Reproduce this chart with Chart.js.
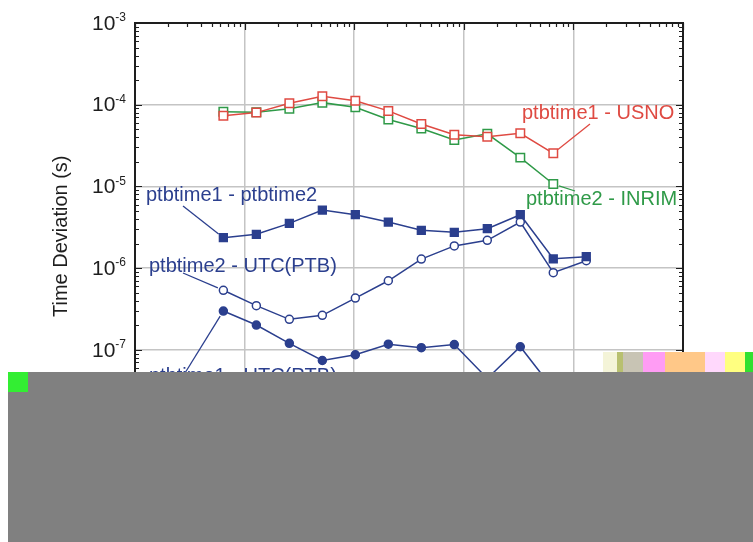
<!DOCTYPE html>
<html>
<head>
<meta charset="utf-8">
<script src="https://cdn.jsdelivr.net/npm/chart.js@4"></script>
<style>
  body { margin: 0; background: #fff; }
  #wrap { position: relative; width: 753px; height: 542px; }
  .blk { position: absolute; }
</style>
</head>
<body>
<div id="wrap">
  <canvas id="chart" width="753" height="542"></canvas>
  <div class="blk" style="left:603px;top:352px;width:14px;height:20px;background:#f4f4d8"></div>
  <div class="blk" style="left:617px;top:352px;width:6px;height:20px;background:#b8c070"></div>
  <div class="blk" style="left:623px;top:352px;width:20px;height:20px;background:#c8c4b4"></div>
  <div class="blk" style="left:643px;top:352px;width:22px;height:20px;background:#ff9cf4"></div>
  <div class="blk" style="left:665px;top:352px;width:40px;height:20px;background:#ffc888"></div>
  <div class="blk" style="left:705px;top:352px;width:20px;height:20px;background:#ffd8fc"></div>
  <div class="blk" style="left:725px;top:352px;width:20px;height:20px;background:#ffff80"></div>
  <div class="blk" style="left:745px;top:352px;width:8px;height:20px;background:#30e030"></div>
  <div class="blk" style="left:8px;top:372px;width:745px;height:170px;background:#808080"></div>
  <div class="blk" style="left:8px;top:372px;width:20px;height:20px;background:#33ee33"></div>
</div>
<script>
// averaging times (s)
const tau = [64, 128, 256, 512, 1024, 2048, 4096, 8192, 16384, 32768, 65536, 131072];

const usno = [7.3e-5, 8.0e-5, 1.04e-4, 1.27e-4, 1.12e-4, 8.4e-5, 5.8e-5, 4.3e-5, 4.06e-5, 4.47e-5, 2.54e-5];
const inrim = [8.2e-5, 8.07e-5, 8.9e-5, 1.06e-4, 9.3e-5, 6.6e-5, 5.1e-5, 3.7e-5, 4.4e-5, 2.25e-5, 1.07e-5];
const t1t2 = [2.36e-6, 2.59e-6, 3.53e-6, 5.14e-6, 4.5e-6, 3.66e-6, 2.9e-6, 2.74e-6, 3.04e-6, 4.5e-6, 1.3e-6, 1.38e-6];
const t2utc = [5.35e-7, 3.47e-7, 2.36e-7, 2.64e-7, 4.3e-7, 7.0e-7, 1.29e-6, 1.87e-6, 2.19e-6, 3.66e-6, 8.8e-7, 1.23e-6];
const t1utc = [2.98e-7, 2.01e-7, 1.2e-7, 7.4e-8, 8.7e-8, 1.17e-7, 1.06e-7, 1.16e-7, 4.45e-8, 1.09e-7, 3.3e-8, 3.6e-8];

const yDecades = [-8, -7, -6, -5, -4, -3];
const xDecades = [1, 2, 3, 4, 5, 6];

const RED = '#df4a42';
const GREEN = '#2f9a48';
const BLUE = '#2b3f8e';
const INK = '#1e1e1e';
const FONT = '"Liberation Sans", Arial, sans-serif';

const pts = (vals) => vals.map((v, i) => ({ x: tau[i], y: v }));

function series(label, vals, color, style, radius, filled) {
  return {
    label,
    data: pts(vals),
    borderColor: color,
    borderWidth: 1.5,
    pointStyle: style,
    pointRadius: radius,
    pointBorderWidth: 1.5,
    pointBorderColor: color,
    pointBackgroundColor: filled ? color : '#ffffff',
    fill: false,
    tension: 0
  };
}

// text callouts: pixel layout, leader goes to a point of a dataset
const callouts = [
  { text: 'ptbtime1 - USNO', color: RED, x: 522, y: 113, from: [590, 124], ds: 0, idx: 10 },
  { text: 'ptbtime2 - INRIM', color: GREEN, x: 526, y: 199, from: [575, 191], ds: 1, idx: 10 },
  { text: 'ptbtime1 - ptbtime2', color: BLUE, x: 146, y: 195, from: [183, 206], ds: 2, idx: 0 },
  { text: 'ptbtime2 - UTC(PTB)', color: BLUE, x: 149, y: 266, from: [183, 273], ds: 3, idx: 0 },
  { text: 'ptbtime1 - UTC(PTB)', color: BLUE, x: 149, y: 376, from: [185, 373], ds: 4, idx: 0 }
];

const isMajor = (v) => Math.abs(Math.log10(v) - Math.round(Math.log10(v))) < 1e-6;

function drawPow(ctx, x, y, exp, align) {
  ctx.font = `21px ${FONT}`;
  const base = ctx.measureText('10').width;
  ctx.font = `12px ${FONT}`;
  const sup = ctx.measureText(String(exp)).width;
  const left = align === 'right' ? x - base - sup : x - (base + sup) / 2;
  ctx.fillStyle = INK;
  ctx.textAlign = 'left';
  ctx.textBaseline = 'middle';
  ctx.font = `21px ${FONT}`;
  ctx.fillText('10', left, y + 1);
  ctx.font = `12px ${FONT}`;
  ctx.textBaseline = 'top';
  ctx.fillText(String(exp), left + base, y - 11);
}

const framePlugin = {
  id: 'frame',
  afterDraw(chart) {
    const { ctx, chartArea: a, scales: { x, y } } = chart;
    ctx.save();
    ctx.strokeStyle = INK;
    ctx.lineWidth = 1.2;
    // inward ticks on all four sides
    yDecades.forEach((d) => {
      for (let m = 1; m <= 9; m++) {
        const v = m * Math.pow(10, d);
        if (v > y.max * 1.0001) break;
        const py = Math.round(y.getPixelForValue(v)) + 0.5;
        const len = m === 1 ? 7 : 4;
        ctx.beginPath();
        ctx.moveTo(a.left, py); ctx.lineTo(a.left + len, py);
        ctx.moveTo(a.right, py); ctx.lineTo(a.right - len, py);
        ctx.stroke();
      }
    });
    xDecades.forEach((d) => {
      for (let m = 1; m <= 9; m++) {
        const v = m * Math.pow(10, d);
        if (v > x.max * 1.0001) break;
        const px = Math.round(x.getPixelForValue(v)) + 0.5;
        const len = m === 1 ? 7 : 4;
        ctx.beginPath();
        ctx.moveTo(px, a.top); ctx.lineTo(px, a.top + len);
        ctx.moveTo(px, a.bottom); ctx.lineTo(px, a.bottom - len);
        ctx.stroke();
      }
    });
    ctx.lineWidth = 2;
    ctx.strokeRect(a.left, a.top, a.right - a.left, a.bottom - a.top);

    // tick labels with superscript exponents
    yDecades.forEach((d) => drawPow(ctx, a.left - 9, y.getPixelForValue(Math.pow(10, d)), d, 'right'));
    xDecades.forEach((d) => drawPow(ctx, x.getPixelForValue(Math.pow(10, d)), a.bottom + 22, d, 'center'));

    // axis title
    ctx.save();
    ctx.translate(61, (a.top + a.bottom) / 2 + 9);
    ctx.rotate(-Math.PI / 2);
    ctx.font = `20px ${FONT}`;
    ctx.fillStyle = INK;
    ctx.textAlign = 'center';
    ctx.textBaseline = 'middle';
    ctx.fillText('Time Deviation (s)', 0, 0);
    ctx.restore();

    // callouts
    callouts.forEach((c) => {
      const el = chart.getDatasetMeta(c.ds).data[c.idx];
      const dx = c.from[0] - el.x, dy = c.from[1] - el.y;
      const len = Math.hypot(dx, dy);
      ctx.strokeStyle = c.color;
      ctx.lineWidth = 1.3;
      ctx.beginPath();
      ctx.moveTo(c.from[0], c.from[1]);
      ctx.lineTo(el.x + dx / len * 6, el.y + dy / len * 6);
      ctx.stroke();
      ctx.font = `20px ${FONT}`;
      ctx.fillStyle = c.color;
      ctx.textAlign = 'left';
      ctx.textBaseline = 'middle';
      ctx.fillText(c.text, c.x, c.y);
    });
    ctx.restore();
  }
};

new Chart(document.getElementById('chart'), {
  type: 'line',
  data: {
    datasets: [
      series('ptbtime1 - USNO', usno, RED, 'rect', 6, false),
      series('ptbtime2 - INRIM', inrim, GREEN, 'rect', 6, false),
      series('ptbtime1 - ptbtime2', t1t2, BLUE, 'rect', 5.5, true),
      series('ptbtime2 - UTC(PTB)', t2utc, BLUE, 'circle', 4, false),
      series('ptbtime1 - UTC(PTB)', t1utc, BLUE, 'circle', 4, true)
    ]
  },
  options: {
    responsive: false,
    animation: false,
    devicePixelRatio: 1,
    layout: { padding: { left: 0, top: 23, right: 70, bottom: 0 } },
    scales: {
      x: {
        type: 'logarithmic',
        min: 10,
        max: 1e6,
        border: { display: false },
        grid: { drawTicks: false, color: (c) => (c.tick && isMajor(c.tick.value) ? '#c4c4c4' : 'transparent'), lineWidth: 1.5 },
        ticks: { display: false },
        afterFit: (s) => { s.height = 110.5; }
      },
      y: {
        type: 'logarithmic',
        min: 1e-8,
        max: 1e-3,
        border: { display: false },
        grid: { drawTicks: false, color: (c) => (c.tick && isMajor(c.tick.value) ? '#c4c4c4' : 'transparent'), lineWidth: 1.5 },
        ticks: { display: false },
        afterFit: (s) => { s.width = 135; }
      }
    },
    plugins: {
      legend: { display: false },
      tooltip: { enabled: false }
    }
  },
  plugins: [framePlugin]
});
</script>
</body>
</html>
